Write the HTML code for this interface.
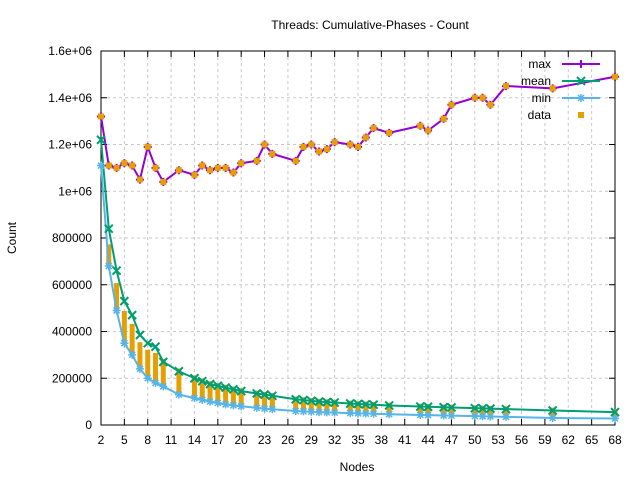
<!DOCTYPE html>
<html><head><meta charset="utf-8"><style>
body{margin:0;background:#fff}
svg{display:block;font-family:"Liberation Sans",sans-serif;font-size:12px}
</style></head><body>
<svg id="s" width="640" height="480" xmlns="http://www.w3.org/2000/svg">
<rect width="640" height="480" fill="#fff"/>
<text x="370" y="29" text-anchor="middle">Threads: Cumulative-Phases - Count</text>
<text x="357" y="471" text-anchor="middle">Nodes</text>
<text x="16" y="238" text-anchor="middle" transform="rotate(-90 16 238)">Count</text>
<g id="g"></g>
</svg>
<script>
const L=101,R=615,T=51,B=425;
const X=v=>L+(v-2)*(R-L)/66, Y=v=>B-v*(B-T)/1.6e6;
let h='';
const yt=[0,200000,400000,600000,800000,1e6,1.2e6,1.4e6,1.6e6],yl=['0','200000','400000','600000','800000','1e+06','1.2e+06','1.4e+06','1.6e+06'];
yt.forEach((v,i)=>{const y=Y(v);if(i>0&&i<8)h+=`<line x1="${L}" x2="${R}" y1="${y}" y2="${y}" stroke="#c8c8c8" stroke-dasharray="3,3"/>`;
h+=`<line x1="${L}" x2="${L+6}" y1="${y}" y2="${y}" stroke="#000"/><line x1="${R}" x2="${R-6}" y1="${y}" y2="${y}" stroke="#000"/>`;
h+=`<text x="${L-9}" y="${y+4}" text-anchor="end">${yl[i]}</text>`;});
for(let v=2;v<=68;v+=3){const x=X(v);if(v>2&&v<68)h+=`<line x1="${x}" x2="${x}" y1="${T}" y2="${B}" stroke="#c8c8c8" stroke-dasharray="3,3"/>`;
h+=`<line x1="${x}" x2="${x}" y1="${B}" y2="${B-6}" stroke="#000"/><line x1="${x}" x2="${x}" y1="${T}" y2="${T+6}" stroke="#000"/>`;
h+=`<text x="${x}" y="${B+19}" text-anchor="middle">${v}</text>`;}
h+=`<rect x="${L}" y="${T}" width="${R-L}" height="${B-T}" fill="none" stroke="#000"/>`;
const xs=[2,3,4,5,6,7,8,9,10,12,14,15,16,17,18,19,20,22,23,24,27,28,29,30,31,32,34,35,36,37,39,43,44,46,47,50,51,52,54,60,68];
const mx=[1.32,1.11,1.10,1.12,1.11,1.05,1.19,1.10,1.04,1.09,1.07,1.11,1.09,1.10,1.10,1.08,1.12,1.13,1.20,1.16,1.13,1.19,1.20,1.17,1.18,1.21,1.20,1.19,1.23,1.27,1.25,1.28,1.26,1.31,1.37,1.40,1.40,1.37,1.45,1.44,1.49].map(v=>v*1e6);
const interp=(pts,v)=>{for(let i=0;i<pts.length-1;i++){if(v<=pts[i+1][0]){const[a,b]=pts[i],[c,d]=pts[i+1];return b+(d-b)*(v-a)/(c-a);}}return pts[pts.length-1][1];};
const mp=[[2,1.22e6],[3,840000],[4,660000],[5,530000],[6,470000],[7,385000],[8,350000],[9,335000],[10,270000],[12,230000],[14,200000],[16,175000],[18,160000],[20,145000],[24,125000],[27,110000],[30,100000],[35,90000],[40,82000],[47,75000],[54,68000],[60,62000],[68,55000]];
const np=[[2,1.11e6],[3,680000],[4,490000],[5,350000],[6,300000],[7,240000],[8,200000],[9,180000],[10,165000],[12,130000],[14,115000],[16,100000],[18,88000],[20,80000],[23,70000],[27,60000],[30,55000],[35,50000],[40,45000],[44,42000],[50,38000],[54,35000],[60,30000],[68,28000]];
const me=xs.map(v=>interp(mp,v)), mn=xs.map(v=>interp(np,v));
xs.forEach((v,i)=>{const x=X(v);if(v>2){const top=v<10?me[i]*0.92:me[i]+12000;h+=`<rect x="${x-2.5}" y="${Y(top)}" width="5" height="${Y(mn[i])-Y(top)}" fill="#e69f00"/>`;}});
const line=(arr,c)=>`<polyline fill="none" stroke="${c}" stroke-width="2" points="${xs.map((v,i)=>X(v)+','+Y(arr[i])).join(' ')}"/>`;
h+=line(mn,'#56b4e9')+line(me,'#009e73')+line(mx,'#9400d3');
xs.forEach((v,i)=>{const x=X(v);
 let y=Y(mn[i]);h+=`<path d="M${x-4} ${y}h8M${x} ${y-4}v8M${x-3} ${y-3}l6 6M${x-3} ${y+3}l6 -6" stroke="#56b4e9" stroke-width="1.5"/>`;
 y=Y(me[i]);h+=`<path d="M${x-4} ${y-4}l8 8M${x-4} ${y+4}l8 -8" stroke="#009e73" stroke-width="2"/>`;
 y=Y(mx[i]);h+=`<path d="M${x-4} ${y}h8M${x} ${y-4}v8" stroke="#9400d3" stroke-width="2"/>`;
 h+=`<rect x="${x-3}" y="${y-3}" width="6" height="6" fill="#e69f00"/>`;});
const lg=[['max','#9400d3'],['mean','#009e73'],['min','#56b4e9']];
lg.forEach((l,i)=>{const y=64+i*17;h+=`<text x="551" y="${y+4}" text-anchor="end">${l[0]}</text><line x1="562" x2="600" y1="${y}" y2="${y}" stroke="${l[1]}" stroke-width="2"/>`;});
h+=`<path d="M581 60v8" stroke="#9400d3" stroke-width="2"/><path d="M577 77l8 8M577 85l8 -8" stroke="#009e73" stroke-width="2"/><path d="M577 98h8M581 94v8M578 95l6 6M578 101l6 -6" stroke="#56b4e9" stroke-width="1.5"/>`;
h+=`<text x="551" y="119" text-anchor="end">data</text><rect x="578" y="112" width="6" height="6" fill="#e69f00"/>`;
document.getElementById('g').innerHTML=h;
</script>
</body></html>
